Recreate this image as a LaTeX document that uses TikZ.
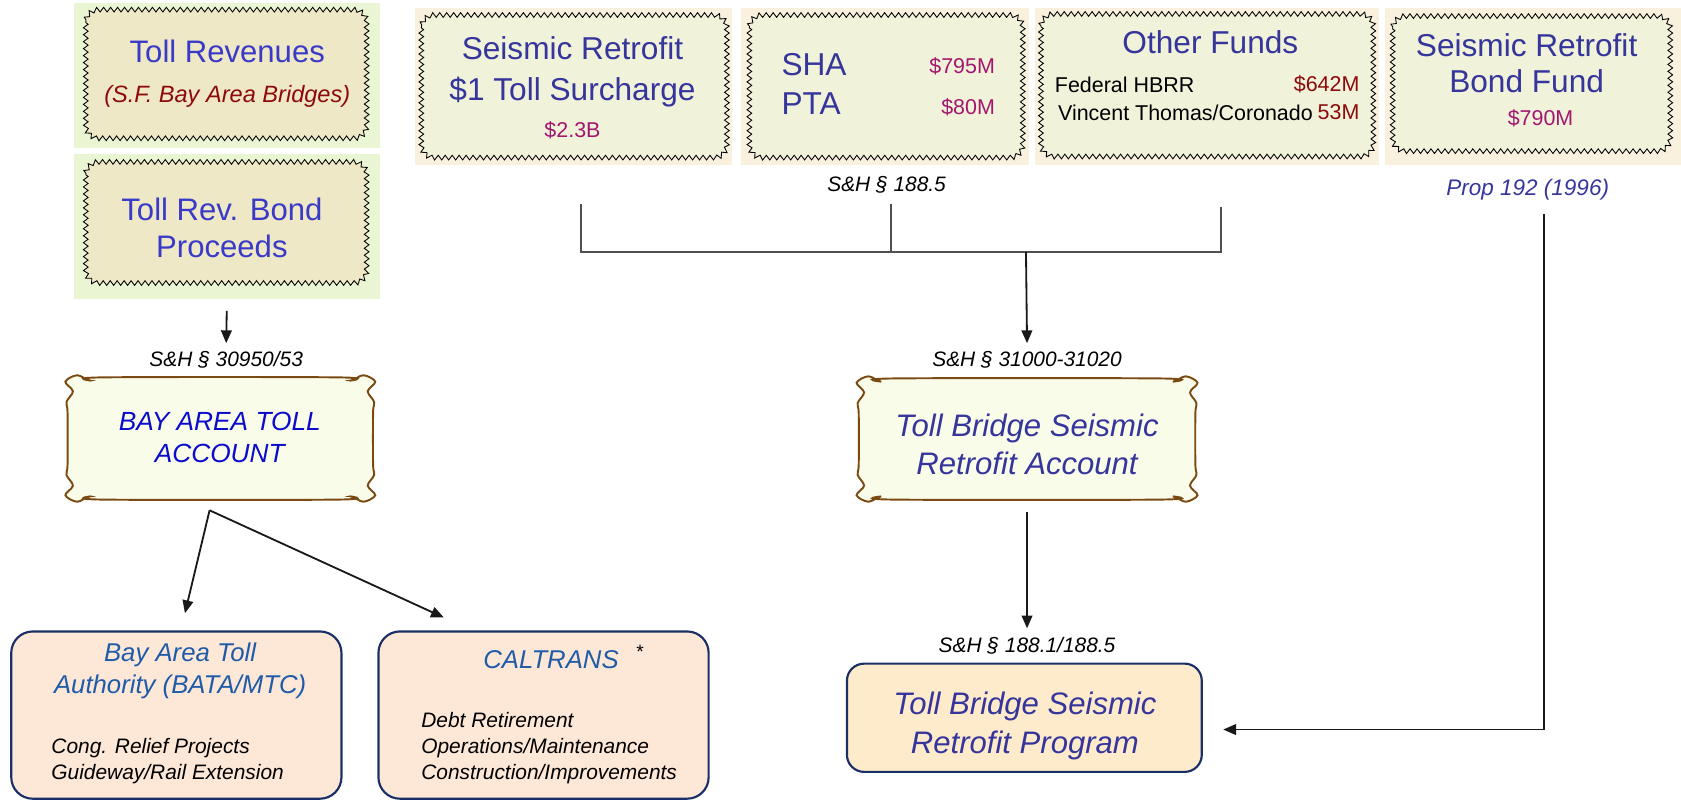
\documentclass[tikz,border=0pt]{standalone}
\usepackage{fontspec}
\setmainfont{Liberation Sans}
\usetikzlibrary{decorations.pathmorphing,arrows.meta,calc}
\definecolor{tollblue}{HTML}{3A3AC8}
\definecolor{sfred}{HTML}{8C0A0A}
\definecolor{slate}{HTML}{35359C}
\definecolor{mag}{HTML}{A3176F}
\definecolor{acctblue}{HTML}{0B0BCB}
\definecolor{batablue}{HTML}{1F5BA8}
\definecolor{greenbg}{HTML}{EAF5D3}
\definecolor{tanfill}{HTML}{EFE8C6}
\definecolor{peachbg}{HTML}{FAF0DE}
\definecolor{creamfill}{HTML}{F0F2DA}
\definecolor{scrollfill}{HTML}{FAFCEA}
\definecolor{scrollline}{HTML}{7A4A12}
\definecolor{boxfill}{HTML}{FDE8D8}
\definecolor{progfill}{HTML}{FEEBCB}
\definecolor{navy}{HTML}{1A2F66}
\definecolor{linegray}{HTML}{505050}
\newcommand\myfs[2]{\fontsize{#1}{#2}\selectfont}
\newcommand\scrollpath[4]{%
 \draw[scrollst] plot[smooth cycle, tension=0.55] coordinates {
 ({#1-2},{#2+4}) ({#1+9},{#2-2}) ({#1+21},{#2+3}) ({#1+33},#2) ({#3-33},#2) ({#3-21},{#2+3}) ({#3-9},{#2-2}) ({#3+2},{#2+4})
 ({#3-5},{#2+13}) ({#3+1},{#2+23}) (#3,{#2+33}) (#3,{#4-33}) ({#3+1},{#4-23}) ({#3-5},{#4-13}) ({#3+2},{#4-4})
 ({#3-9},{#4+2}) ({#3-21},{#4-3}) ({#3-33},#4) ({#1+33},#4) ({#1+21},{#4-3}) ({#1+9},{#4+2}) ({#1-2},{#4-4})
 ({#1+5},{#4-13}) ({#1-1},{#4-23}) (#1,{#4-33}) (#1,{#2+33}) ({#1-1},{#2+23}) ({#1+5},{#2+13})
 };}
\tikzset{
 bgrect/.style={inner sep=0pt, outer sep=0pt, draw=none},
 zig/.style={rounded corners=12pt, postaction={sharp corners, draw=black, line width=0.8pt, decorate,
   decoration={zigzag, segment length=6.5pt, amplitude=2.2pt}}},
 scrollst/.style={draw=scrollline, fill=scrollfill, line width=1.8pt},
 rbox/.style={draw=navy, line width=2pt, rounded corners=20pt, inner sep=0pt},
 txt/.style={inner sep=0pt, outer sep=0pt},
 bigt/.style={txt, font=\myfs{29}{35}},
 smallt/.style={txt, font=\myfs{20}{24}},
 law/.style={txt, font=\myfs{19.5}{24}\itshape},
 arr/.style={draw=black!90, line width=1.7pt, -{Triangle[length=12pt,width=10pt]}},
 plain/.style={draw=linegray, line width=1.3pt},
}
\begin{document}
\begin{tikzpicture}[x=1pt,y=-1pt]
\useasboundingbox (0,0) rectangle (1568,747);

% ---------- left column ----------
\node[bgrect, fill=greenbg, minimum width=285pt, minimum height=135pt] (trbg) at (211.5,70.5) {};
\path[zig, fill=tanfill] (80,9) rectangle (342,129);
\node[bigt, text=tollblue] (t1) at (212,48) {Toll Revenues};
\node[txt, font=\myfs{22}{26}\itshape, text=sfred] (t2) at (212,90) {(S.F. Bay Area Bridges)};

\node[bgrect, fill=greenbg, minimum width=285pt, minimum height=135pt] (bondbg) at (211.5,211.5) {};
\path[zig, fill=tanfill] (80,151) rectangle (342,264);
\node[bigt, text=tollblue, align=center] (t3) at (207,212.5) {Toll Rev. Bond\\Proceeds};

\node[law] (lab1) at (211,336) {S\&H § 30950/53};

\scrollpath{63}{352}{348}{466}
\node[bgrect, minimum width=285pt, minimum height=114pt] (bay) at (205.5,409) {};
\node[txt, font=\myfs{24.5}{30}\itshape, text=acctblue, align=center] (t4) at (205,408) {BAY AREA TOLL\\ACCOUNT};

\node[rbox, fill=boxfill, minimum width=308pt, minimum height=156pt] (bata) at (164.5,667) {};
\node[txt, font=\myfs{24}{30}\itshape, text=batablue, align=center] (t5) at (168,626) {Bay Area Toll\\Authority (BATA/MTC)};
\node[txt, font=\myfs{19.5}{25}\itshape, align=left, anchor=west] (t6) at (48,710) {Cong. Relief Projects\\Guideway/Rail Extension};

\node[rbox, fill=boxfill, minimum width=308pt, minimum height=156pt] (caltrans) at (507,667) {};
\node[txt, font=\myfs{24}{30}\itshape, text=batablue] (t7) at (514,615) {CALTRANS};
\node[txt, font=\myfs{18}{20}] (t8) at (597,608) {*};
\node[txt, font=\myfs{19.5}{24}\itshape, align=left, anchor=west] (t9) at (393,698) {Debt Retirement\\Operations/Maintenance\\Construction/Improvements};

\draw[arr] ($(bondbg.south)+(0,11)$) -- ($(lab1.north)+(0,-8)$);
\coordinate (split) at ($(bay.south)+(-10,10)$);
\draw[arr] (split) -- ($(bata.north)+(8,-16)$);
\draw[arr] (split) -- ($(caltrans.north west)+(62,-12)$);

% ---------- top row ----------
\node[bgrect, fill=peachbg, minimum width=296pt, minimum height=146pt] (s1bg) at (535,80.5) {};
\path[zig, fill=creamfill] (393,14) rectangle (678,147);
\node[bigt, font=\myfs{29.5}{39}, text=slate, align=center] (t10) at (534,67) {Seismic Retrofit\\\$1 Toll Surcharge};
\node[smallt, text=mag] (t11) at (534,122) {\$2.3B};

\node[bgrect, fill=peachbg, minimum width=269pt, minimum height=146pt] (s2bg) at (825.5,80.5) {};
\path[zig, fill=creamfill] (699,14) rectangle (954,147);
\node[bigt, font=\myfs{29.5}{35}, text=slate, anchor=west] (t12) at (729,60) {SHA};
\node[bigt, font=\myfs{29.5}{35}, text=slate, anchor=west] (t13) at (729,97) {PTA};
\node[smallt, text=mag, anchor=east] (t14) at (928,62) {\$795M};
\node[smallt, text=mag, anchor=east] (t15) at (928,100) {\$80M};

\node[bgrect, fill=peachbg, minimum width=321pt, minimum height=146pt] (s3bg) at (1125.5,80.5) {};
\path[zig, fill=creamfill] (971,13) rectangle (1281,146);
\node[bigt, font=\myfs{29.5}{35}, text=slate] (t16) at (1129,39) {Other Funds};
\node[smallt, anchor=west] (t17) at (984,79) {Federal HBRR};
\node[smallt, anchor=west] (t18) at (987,105) {Vincent Thomas/Coronado};
\node[smallt, text=sfred, anchor=east] (t19) at (1268,79) {\$642M};
\node[smallt, text=sfred, anchor=east] (t20) at (1268,105) {53M};

\node[bgrect, fill=peachbg, minimum width=276pt, minimum height=146pt] (s4bg) at (1430,80.5) {};
\path[zig, fill=creamfill] (1299,15) rectangle (1558,141);
\node[bigt, font=\myfs{29.5}{34}, text=slate, align=center] (t21) at (1424,59) {Seismic Retrofit\\Bond Fund};
\node[smallt, text=mag] (t22) at (1437,110) {\$790M};

\node[txt, font=\myfs{21}{24}\itshape, text=slate] (prop) at (1425,177) {Prop 192 (1996)};
\node[law] (lab2) at (827,172) {S\&H § 188.5};

% bracket
\coordinate (c1) at (542,190);
\coordinate (c2) at (831,190);
\coordinate (c3) at (1139,193);
\coordinate (hj) at (957,235);
\draw[plain] (c1) -- (c1 |- hj) -- (c3 |- hj) -- (c3);
\draw[plain] (c2) -- (c2 |- hj);

% ---------- middle column ----------
\node[law] (lab3) at (958,336) {S\&H § 31000-31020};
\draw[arr] (hj) -- ($(lab3.north)+(0,-8)$);

\scrollpath{801}{353}{1115}{466}
\node[bgrect, minimum width=314pt, minimum height=113pt] (acct) at (958,409.5) {};
\node[bigt, font=\myfs{29}{35}\itshape, text=slate, align=center] (t23) at (958,414.5) {Toll Bridge Seismic\\Retrofit Account};

\node[law] (lab4) at (958,602) {S\&H § 188.1/188.5};
\draw[arr] ($(acct.south)+(0,12)$) -- ($(lab4.north)+(0,-8)$);

\node[rbox, rounded corners=16pt, fill=progfill, minimum width=331pt, minimum height=101pt] (prog) at (955.5,669.5) {};
\node[bigt, font=\myfs{29}{37}\itshape, text=slate, align=center] (t24) at (956,677) {Toll Bridge Seismic\\Retrofit Program};

% right connector
\coordinate (pl) at (1440,200);
\coordinate (pin) at ($(prog.east)+(19,11)$);
\draw[arr] (pl) -- (pl |- pin) -- (pin);
\end{tikzpicture}
\end{document}
